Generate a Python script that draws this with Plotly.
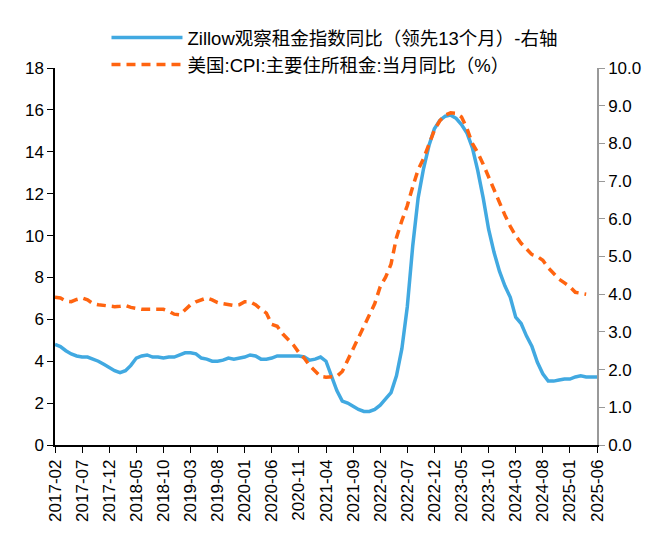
import plotly.graph_objects as go
import pandas as pd

months = pd.date_range("2017-02-01", "2025-06-01", freq="MS").strftime("%Y-%m").tolist()

zillow_yoy = [
    4.8, 4.7, 4.5, 4.35, 4.25, 4.2, 4.2, 4.1, 4.0, 3.85,
    3.7, 3.55, 3.45, 3.55, 3.8, 4.15, 4.25, 4.3, 4.2, 4.2,
    4.15, 4.2, 4.2, 4.3, 4.4, 4.4, 4.35, 4.15, 4.1, 4.0,
    4.0, 4.05, 4.15, 4.1, 4.15, 4.2, 4.3, 4.25, 4.1, 4.1,
    4.15, 4.25, 4.25, 4.25, 4.25, 4.25, 4.2, 4.05, 4.1, 4.2,
    4.0, 3.3, 2.6, 2.1, 2.0, 1.85, 1.7, 1.6, 1.6, 1.7,
    1.9, 2.2, 2.5, 3.3, 4.6, 6.6, 9.5, 11.8, 13.2, 14.3,
    15.1, 15.5, 15.7, 15.75, 15.6, 15.3, 14.9, 14.2, 13.1, 11.8,
    10.3, 9.2, 8.3, 7.6, 7.05, 6.1, 5.8, 5.2, 4.7, 3.95,
    3.4, 3.05, 3.05, 3.1, 3.15, 3.15, 3.25, 3.3, 3.25, 3.25,
    3.25,
]

cpi_rent_yoy = [
    3.92, 3.9, 3.82, 3.8, 3.86, 3.9, 3.85, 3.75, 3.72, 3.7,
    3.7, 3.67, 3.68, 3.7, 3.65, 3.62, 3.6, 3.6, 3.6, 3.6,
    3.6, 3.55, 3.47, 3.45, 3.6, 3.72, 3.8, 3.85, 3.9, 3.85,
    3.78, 3.75, 3.72, 3.7, 3.72, 3.8, 3.8, 3.72, 3.6, 3.5,
    3.2, 3.15, 2.95, 2.8, 2.65, 2.45, 2.3, 2.1, 1.95, 1.82,
    1.8, 1.8, 1.82, 1.95, 2.25, 2.6, 2.9, 3.15, 3.45, 3.75,
    4.2, 4.45, 4.8, 5.5, 5.95, 6.35, 6.85, 7.3, 7.6, 7.95,
    8.35, 8.6, 8.75, 8.81, 8.8, 8.7, 8.4, 8.0, 7.75, 7.45,
    7.1, 6.8, 6.45, 6.1, 5.8, 5.55, 5.35, 5.2, 5.05, 5.0,
    4.9, 4.7, 4.55, 4.4, 4.3, 4.2, 4.05, 4.02, 4.0,
]

tick_labels = months[::5]

name_zillow = "Zillow观察租金指数同比（领先13个月）-右轴"
name_cpi = "美国:CPI:主要住所租金:当月同比（%）"

font_family = "Arial, 'Liberation Sans', 'Noto Sans CJK SC', sans-serif"

fig = go.Figure()
fig.add_trace(go.Scatter(
    x=months, y=zillow_yoy, name=name_zillow, mode="lines",
    line=dict(color="#41A9E1", width=3.5), yaxis="y",
))
fig.add_trace(go.Scatter(
    x=months[:len(cpi_rent_yoy)], y=cpi_rent_yoy, name=name_cpi, mode="lines",
    line=dict(color="#FF6410", width=3.5, dash="9px,6px"), yaxis="y2",
))

fig.update_layout(
    width=645, height=537,
    margin=dict(l=47, r=56, t=60, b=100, autoexpand=False),
    paper_bgcolor="white", plot_bgcolor="white",
    font=dict(family=font_family, size=17, color="#000000"),
    showlegend=True,
    legend=dict(
        orientation="v", x=0.095, xanchor="left", y=1.13, yanchor="top",
        bgcolor="rgba(0,0,0,0)", font=dict(size=18.5), itemwidth=71,
        tracegroupgap=0,
    ),
    xaxis=dict(
        type="category", range=[0, len(months) - 1],
        tickmode="array", tickvals=tick_labels, ticktext=tick_labels,
        tickangle=-90, ticks="outside", ticklen=6, tickcolor="#000",
        showline=True, linecolor="#000", linewidth=1.5,
        showgrid=False, zeroline=False, tickfont=dict(size=17),
    ),
    yaxis=dict(
        range=[0, 18], dtick=2, tickformat="d",
        ticks="outside", ticklen=6, tickcolor="#000",
        showline=True, linecolor="#000", linewidth=1.5,
        showgrid=False, zeroline=False, tickfont=dict(size=17),
    ),
    yaxis2=dict(
        range=[0, 10], dtick=1, tickformat=".1f", overlaying="y", side="right",
        ticks="outside", ticklen=6, tickcolor="#999",
        showline=True, linecolor="#999", linewidth=1.5,
        showgrid=False, zeroline=False, tickfont=dict(size=17),
    ),
)

fig.write_html("out.html")
